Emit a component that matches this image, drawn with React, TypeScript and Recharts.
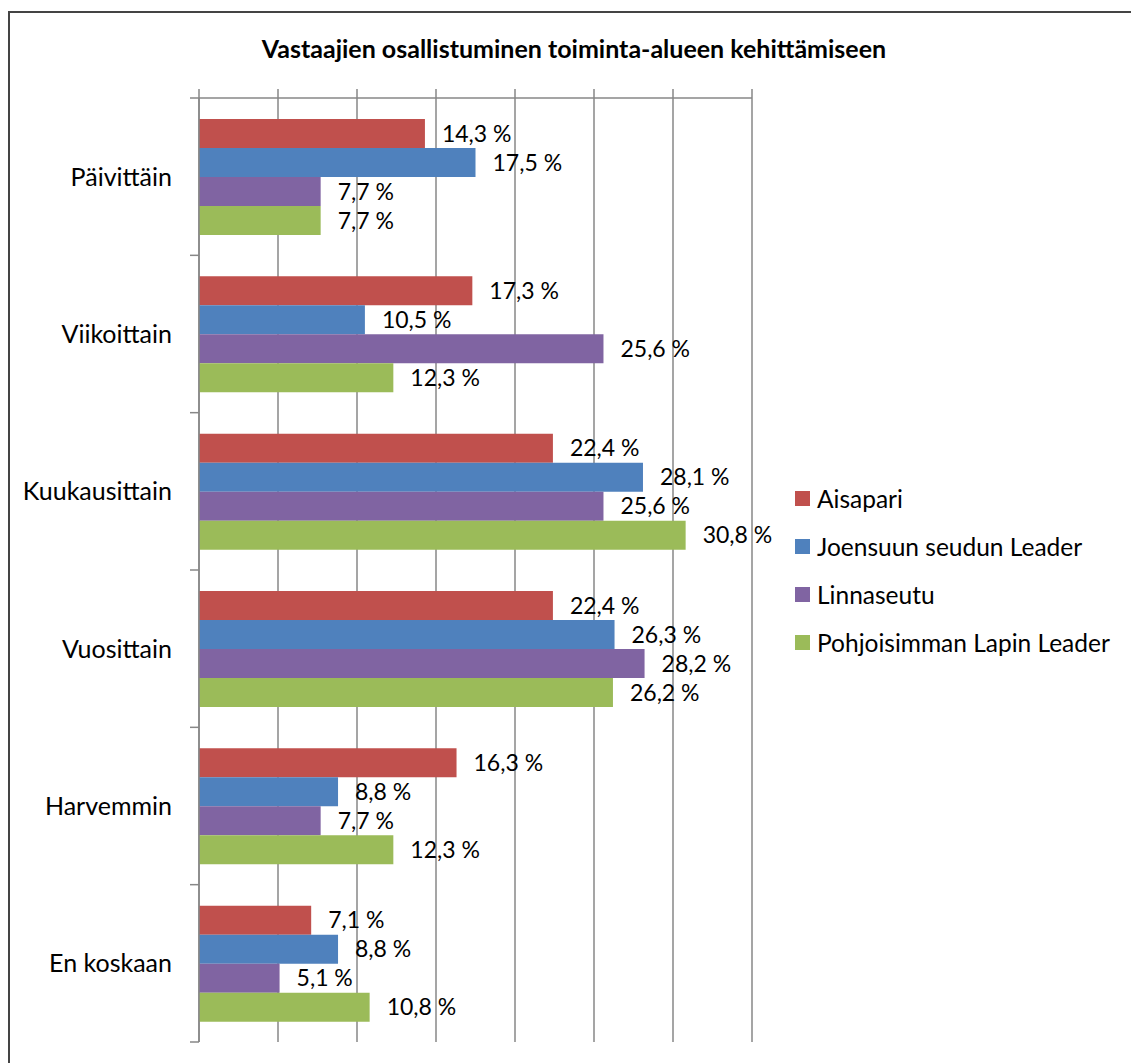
import React from 'react';
import { BarChart, Bar, XAxis, YAxis, CartesianGrid, LabelList, Legend } from 'recharts';

const categories = ['Päivittäin', 'Viikoittain', 'Kuukausittain', 'Vuosittain', 'Harvemmin', 'En koskaan'];
const aisapari = [14.3, 17.3, 22.4, 22.4, 16.3, 7.1];
const joensuu = [17.5, 10.5, 28.1, 26.3, 8.8, 8.8];
const linnaseutu = [7.7, 25.6, 25.6, 28.2, 7.7, 5.1];
const pohjoisin = [7.7, 12.3, 30.8, 26.2, 12.3, 10.8];
const seriesNames = ['Aisapari', 'Joensuun seudun Leader', 'Linnaseutu', 'Pohjoisimman Lapin Leader'];
const seriesKeys = ['a', 'b', 'c', 'd'];
const seriesColors = ['#C0504D', '#4F81BD', '#8064A2', '#9BBB59'];
const xTicks = [0, 5, 10, 15, 20, 25, 30, 35];
const title = 'Vastaajien osallistuminen toiminta-alueen kehittämiseen';

const seriesValues = [aisapari, joensuu, linnaseutu, pohjoisin];
const data = categories.map((name, i) => {
  const row: any = { name };
  seriesKeys.forEach((k, s) => { row[k] = seriesValues[s][i]; });
  return row;
});

const FONT = 'Lato, "Noto Sans", sans-serif';
const GRID = '#878787';
const TICK_SIZE = 9;
const TICK_MARGIN = 18;

const fmt = (v: any) => Number(v).toFixed(1).replace('.', ',') + ' %';
const blank = () => '';

// Category tick: label plus short tick marks at the band boundaries
const CategoryTick = (props: any) => {
  const { x, y, payload, index, visibleTicksCount } = props;
  const half = payload && payload.offset ? payload.offset : 0;
  const axisX = x + TICK_SIZE + TICK_MARGIN;
  const isLast = index === (visibleTicksCount ?? categories.length) - 1;
  return (
    <g>
      <line x1={axisX - TICK_SIZE} x2={axisX} y1={y - half} y2={y - half} stroke={GRID} strokeWidth={1.5} />
      {isLast && (
        <line x1={axisX - TICK_SIZE} x2={axisX} y1={y + half} y2={y + half} stroke={GRID} strokeWidth={1.5} />
      )}
      <text x={x} y={y} dy="0.355em" textAnchor="end" fill="#000" fontSize={25} fontFamily={FONT}>
        {payload.value}
      </text>
    </g>
  );
};

const LegendContent = (props: any) => {
  const { payload } = props;
  return (
    <div style={{ fontFamily: FONT }}>
      {(payload || []).map((p: any) => (
        <div key={p.value} style={{ height: 48, display: 'flex', alignItems: 'center', fontSize: 24.5, color: '#000', whiteSpace: 'nowrap' }}>
          <span style={{ display: 'inline-block', width: 15, height: 15, background: p.color, marginRight: 7 }} />
          <span>{p.value}</span>
        </div>
      ))}
    </div>
  );
};

export default function App() {
  return (
    <div style={{ position: 'absolute', left: 8, top: 11, width: 1123, height: 1052, borderTop: '2px solid #444', borderLeft: '2px solid #444', boxSizing: 'border-box', fontFamily: FONT, background: '#fff' }}>
      <div style={{ position: 'absolute', left: 114, top: 19, width: 900, textAlign: 'center', fontWeight: 700, fontSize: 25, lineHeight: '32px', color: '#000', zIndex: 2 }}>
        {title}
      </div>
      <BarChart
        width={1121}
        height={1050}
        data={data}
        layout="vertical"
        margin={{ top: 76, right: 379, bottom: 21, left: 0 }}
        barCategoryGap={21}
        barGap={0}
      >
        <CartesianGrid horizontal={false} vertical={true} stroke={GRID} strokeWidth={1.5} />
        <XAxis
          type="number"
          orientation="top"
          domain={[0, 35]}
          allowDataOverflow
          ticks={xTicks}
          tickFormatter={blank}
          tickSize={9}
          height={9}
          axisLine={{ stroke: GRID, strokeWidth: 1.5 }}
          tickLine={{ stroke: GRID, strokeWidth: 1.5 }}
        />
        <YAxis
          type="category"
          dataKey="name"
          width={189}
          axisLine={{ stroke: GRID, strokeWidth: 1.5 }}
          tickLine={false}
          tickSize={TICK_SIZE}
          tickMargin={TICK_MARGIN}
          interval={0}
          tick={<CategoryTick />}
        />
        <Legend
          layout="vertical"
          align="center"
          verticalAlign="middle"
          content={<LegendContent />}
          wrapperStyle={{ left: 785, top: 461, width: 340 }}
        />
        {seriesKeys.map((k, s) => (
          <Bar key={k} dataKey={k} name={seriesNames[s]} fill={seriesColors[s]} isAnimationActive={false}>
            <LabelList dataKey={k} position="right" offset={17} formatter={fmt} style={{ fill: '#000', fontSize: 23, fontFamily: FONT }} />
          </Bar>
        ))}
      </BarChart>
    </div>
  );
}
